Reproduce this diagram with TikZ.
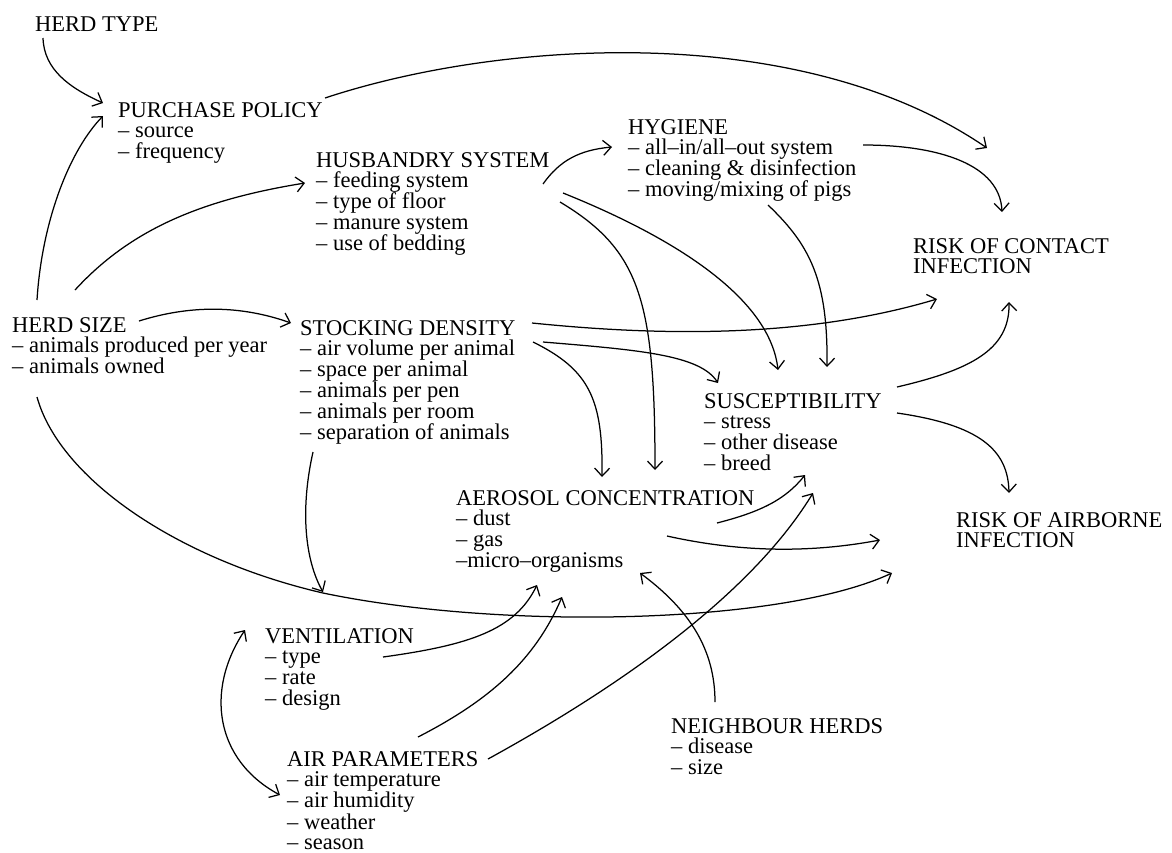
\documentclass[tikz,border=0pt]{standalone}
\usepackage{fontspec}
\setmainfont{Liberation Serif}
\usetikzlibrary{arrows.meta}
\newcommand\blk[1]{\vtop{\halign{##\hfil\cr#1\crcr}}}
\tikzset{
  lbl/.style={anchor=base west, inner sep=0pt, text=black,
    font=\fontsize{22.5}{20.8}\selectfont},
  conn/.style={line width=1.25pt, draw=black,
    -{Straight Barb[length=8pt,width=15pt,line width=1.25pt]}},
  both/.style={line width=1.25pt, draw=black,
    {Straight Barb[length=8pt,width=15pt,line width=1.25pt]}-{Straight Barb[length=8pt,width=15pt,line width=1.25pt]}}
}
\begin{document}
\begin{tikzpicture}[x=1pt,y=-1pt]
\fill[white] (0,0) rectangle (1172,852);
\useasboundingbox (0,0) rectangle (1172,852);

\node[lbl] (ht) at (35,31) {HERD TYPE};
\node[lbl] (pp) at (118,117) {\blk{PURCHASE POLICY\cr – source\cr – frequency}};
\node[lbl] (hs) at (316,167) {\blk{HUSBANDRY SYSTEM\cr – feeding system\cr – type of floor\cr – manure system\cr – use of bedding}};
\node[lbl] (hy) at (628,134) {\blk{HYGIENE\cr – all–in/all–out system\cr – cleaning \& disinfection\cr – moving/mixing of pigs}};
\node[lbl] (rc) at (913,253) {\blk{RISK OF CONTACT\cr INFECTION}};
\node[lbl] (hz) at (12,332) {\blk{HERD SIZE\cr – animals produced per year\cr – animals owned}};
\node[lbl] (sd) at (300,335) {\blk{STOCKING DENSITY\cr – air volume per animal\cr – space per animal\cr – animals per pen\cr – animals per room\cr – separation of animals}};
\node[lbl] (su) at (704,408) {\blk{SUSCEPTIBILITY\cr – stress\cr – other disease\cr – breed}};
\node[lbl] (ae) at (456,505) {\blk{AEROSOL CONCENTRATION\cr – dust\cr – gas\cr –micro–organisms}};
\node[lbl] (ra) at (956,527) {\blk{RISK OF AIRBORNE\cr INFECTION}};
\node[lbl] (ve) at (265,643) {\blk{VENTILATION\cr – type\cr – rate\cr – design}};
\node[lbl] (nh) at (671,733) {\blk{NEIGHBOUR HERDS\cr – disease\cr – size}};
\node[lbl, font=\fontsize{22.5}{20.2}\selectfont] (ap) at (287,766) {\blk{AIR PARAMETERS\cr – air temperature\cr – air humidity\cr – weather\cr – season}};

% herd type -> purchase policy
\draw[conn] ([shift={(8,7)}]ht.base west) .. controls (44,70) and (70,88) .. ([shift={(-15,-14)}]pp.base west);
% herd size -> purchase policy
\draw[conn] ([shift={(25,-32)}]hz.base west) .. controls (42,220) and (70,150) .. ([shift={(-15,-1)}]pp.base west);
% herd size -> husbandry
\draw[conn] ([shift={(63,-42)}]hz.base west) .. controls (130,230) and (200,200) .. ([shift={(-11,16)}]hs.base west);
% herd size -> stocking density
\draw[conn] ([shift={(127,-11)}]hz.base west) .. controls (190,305) and (240,305) .. ([shift={(-9,-12)}]sd.base west);
% herd size -> risk of airborne infection
\draw[conn] ([shift={(25,65)}]hz.base west) .. controls (60,480) and (180,560) .. (323,593)
  .. controls (500,630) and (780,625) .. ([shift={(-64,46)}]ra.base west);
% purchase policy -> risk of contact
\draw[conn] ([shift={(207,-19)}]pp.base west) .. controls (500,40) and (800,20) .. ([shift={(74,-105)}]rc.base west);
% husbandry -> hygiene
\draw[conn] ([shift={(227,17)}]hs.base west) .. controls (560,160) and (580,150) .. ([shift={(-16,13)}]hy.base west);
% husbandry -> susceptibility
\draw[conn] ([shift={(247,26)}]hs.base west) .. controls (680,240) and (770,300) .. ([shift={(74,-38)}]su.base west);
% husbandry -> aerosol
\draw[conn] ([shift={(244,35)}]hs.base west) .. controls (640,250) and (655,300) .. ([shift={(199,-35)}]ae.base west);
% hygiene -> risk of contact
\draw[conn] ([shift={(235,11)}]hy.base west) .. controls (940,145) and (1000,165) .. ([shift={(89,-41)}]rc.base west);
% hygiene -> susceptibility
\draw[conn] ([shift={(140,71)}]hy.base west) .. controls (810,245) and (828,280) .. ([shift={(123,-41)}]su.base west);
% stocking density -> risk of contact
\draw[conn] ([shift={(232,-12)}]sd.base west) .. controls (650,335) and (800,340) .. ([shift={(24,46)}]rc.base west);
% stocking density -> susceptibility
\draw[conn] ([shift={(243,7)}]sd.base west) .. controls (640,350) and (700,355) .. ([shift={(14,-25)}]su.base west);
% stocking density -> aerosol
\draw[conn] ([shift={(233,7)}]sd.base west) .. controls (590,370) and (603,400) .. ([shift={(146,-28)}]ae.base west);
% stocking density -> ventilation
\draw[conn] ([shift={(13,117)}]sd.base west) .. controls (300,510) and (305,560) .. ([shift={(58,-51)}]ve.base west);
% susceptibility -> risks
\draw[conn] ([shift={(193,-21)}]su.base west) .. controls (970,370) and (1010,350) .. ([shift={(96,49)}]rc.base west);
\draw[conn] ([shift={(193,5)}]su.base west) .. controls (980,425) and (1008,450) .. ([shift={(53,-34)}]ra.base west);
% aerosol -> susceptibility / airborne
\draw[conn] ([shift={(261,18)}]ae.base west) .. controls (760,512) and (785,500) .. ([shift={(101,67)}]su.base west);
\draw[conn] ([shift={(211,31)}]ae.base west) .. controls (730,550) and (800,555) .. ([shift={(-76,13)}]ra.base west);
% ventilation -> aerosol
\draw[conn] ([shift={(118,14)}]ve.base west) .. controls (470,645) and (515,630) .. ([shift={(81,80)}]ae.base west);
% air parameters -> aerosol / susceptibility
\draw[conn] ([shift={(131,-29)}]ap.base west) .. controls (490,700) and (535,660) .. ([shift={(106,92)}]ae.base west);
\draw[conn] ([shift={(201,-7)}]ap.base west) .. controls (650,670) and (760,580) .. ([shift={(109,85)}]su.base west);
% neighbour herds -> aerosol
\draw[conn] ([shift={(44,-31)}]nh.base west) .. controls (715,650) and (690,610) .. ([shift={(184,68)}]ae.base west);
% ventilation <-> air parameters
\draw[both] ([shift={(-20,-13)}]ve.base west) .. controls (205,690) and (215,760) .. ([shift={(-7,29)}]ap.base west);
\end{tikzpicture}
\end{document}
